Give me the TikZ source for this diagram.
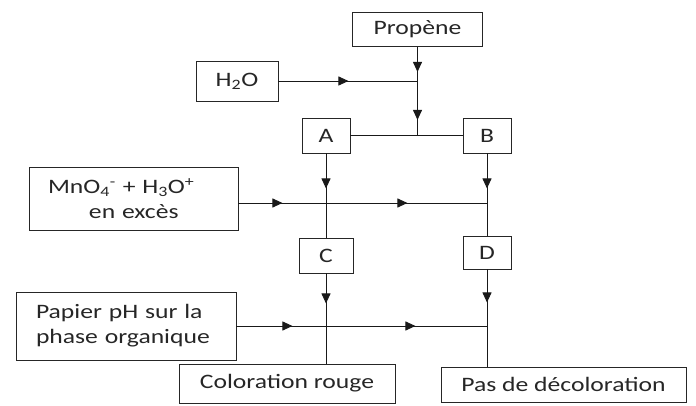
\documentclass[tikz,border=0pt]{standalone}
\usepackage{fontspec}
\setmainfont[FakeStretch=1.25]{Carlito}
\usetikzlibrary{arrows.meta,decorations.markings}
\begin{document}
\begin{tikzpicture}[x=1pt,y=-1pt,
  box/.style={draw=black!85, line width=0.9pt, inner sep=0pt,
    font=\fontsize{20.5}{25}\selectfont, text=black!85},
  link/.style={draw=black!90, line width=0.9pt},
  flow/.style={postaction={decorate,decoration={markings,
    mark=at position #1 with {\arrow{Triangle[length=10pt,width=9pt]}}}}}]
\useasboundingbox (0,0) rectangle (696,406);

% reagents and products
\node[box, minimum width=130pt, minimum height=34pt] (pro) at (417.5,29.5) {Propène};
\node[box, minimum width=82pt, minimum height=40pt] (h2o) at (237,81) {H\textsubscript{2}O};
\node[box, minimum width=48pt, minimum height=35pt] (A) at (326,135.5) {A};
\node[box, minimum width=48pt, minimum height=35pt] (B) at (487,135.5) {B};
\node[box, minimum width=209pt, minimum height=63pt, text width=171pt,
      inner xsep=19pt, align=left] (mno) at (133.5,198.5)
  {MnO\textsubscript{4}\textsuperscript{-} + H\textsubscript{3}O\textsuperscript{+}\\\hspace*{41pt}en excès};
\node[box, minimum width=54pt, minimum height=35pt] (C) at (326,255.5) {C};
\node[box, minimum width=48pt, minimum height=33pt] (D) at (487,252.5) {D};
\node[box, minimum width=220pt, minimum height=68pt, text width=180pt,
      inner xsep=20pt, align=left] (pap) at (126,326)
  {Papier pH sur la\\phase organique};
\node[box, minimum width=216pt, minimum height=39pt] (col) at (287,383.5) {Coloration rouge};
\node[box, minimum width=245pt, minimum height=35pt] (pas) at (563.5,384.5) {Pas de décoloration};

% junctions
\coordinate (jAB) at (pro.south |- A.east);
\coordinate (mline) at (0,203);

% connectors
\draw[link] (A.east) -- (B.west);
\draw[link, flow=25pt, flow=73pt] (pro.south) -- (jAB);
\draw[link, flow=70pt] (h2o.east) -- (h2o.east -| pro.south);
\draw[link, flow=35pt] (A.south) -- (A.south |- C.north);
\draw[link, flow=35pt] (B.south) -- (B.south |- D.north);
\draw[link, flow=44pt, flow=169pt] (mno.east |- mline) -- (B.south |- mline);
\draw[link, flow=30pt] (C.south) -- (C.south |- col.north);
\draw[link, flow=33pt] (D.south) -- (D.south |- pas.north);
\draw[link, flow=56pt, flow=179pt] (pap.east) -- (pap.east -| D.south);
\end{tikzpicture}
\end{document}
